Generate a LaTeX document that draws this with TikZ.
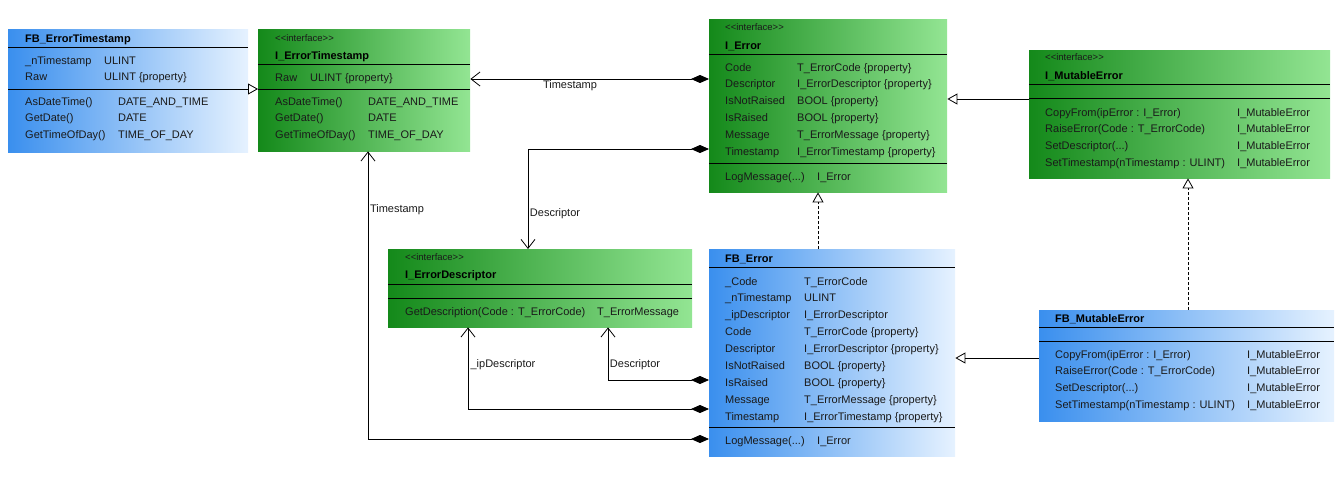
\documentclass[tikz,border=0pt]{standalone}
\usepackage{fontspec}
\setmainfont{Liberation Sans}
\usepackage{array}
\usetikzlibrary{arrows.meta,positioning}
\definecolor{fbDark}{HTML}{3A8FEE}
\definecolor{fbLight}{HTML}{E6F2FF}
\definecolor{ifDark}{HTML}{14891A}
\definecolor{ifLight}{HTML}{93E593}
\definecolor{txtDark}{HTML}{1A1A1A}

\begin{document}
\begin{tikzpicture}[x=1pt, y=-1pt,
  fbclass/.style={rectangle, left color=fbDark, right color=fbLight, draw=none, anchor=north west, inner sep=0pt},
  ifclass/.style={rectangle, left color=ifDark, right color=ifLight, draw=none, anchor=north west, inner sep=0pt},
  stereo/.style={anchor=base west, inner sep=0pt, font=\fontsize{9.5}{11}\selectfont, text=txtDark},
  cname/.style={anchor=base west, inner sep=0pt, font=\fontsize{11}{13}\bfseries\selectfont, text=black},
  members/.style={anchor=base west, inner sep=0pt, font=\fontsize{11}{16.9}\selectfont, text=txtDark},
  sep/.style={draw=black, line width=0.9pt},
  lbl/.style={inner sep=0pt, font=\fontsize{11}{13}\selectfont, text=txtDark},
  compo/.style={{Diamond[length=18pt,width=8pt]}-{Straight Barb[length=9pt,width=14pt]}, line width=0.8pt, draw=black},
  realize/.style={-{Triangle[open,length=10pt,width=11pt]}, line width=0.8pt, dash pattern=on 3pt off 2pt, draw=black},
  inherit/.style={-{Triangle[open,length=10pt,width=11pt]}, line width=0.8pt, draw=black}
]
\useasboundingbox (0,0) rectangle (1344,477);

% class boxes
\node[fbclass, minimum width=240pt, minimum height=123pt] (fbts) at (8,29) {};
\node[ifclass, minimum width=212pt, minimum height=122pt] (its) at (258,29) {};
\node[ifclass, minimum width=238pt, minimum height=173pt] (ierr) at (709,19) {};
\node[ifclass, minimum width=301pt, minimum height=128pt] (imut) at (1029,50) {};
\node[ifclass, minimum width=304pt, minimum height=78pt] (idesc) at (388,249) {};
\node[fbclass, minimum width=246pt, minimum height=207pt] (fberr) at (709,249) {};
\node[fbclass, minimum width=295pt, minimum height=111pt] (fbmut) at (1039,310) {};

% FB_ErrorTimestamp
\node[cname] (fbts-name) at (25,42) {FB\_ErrorTimestamp};
\draw[sep] (fbts.west |- 0,47) -- (fbts.east |- 0,47);
\node[members] (fbts-attr) at (25,64) {\begin{tabular}[t]{@{}p{79pt}@{}l@{}}
  \_nTimestamp & ULINT\\
  Raw & ULINT \{property\}
\end{tabular}};
\draw[sep] (fbts.west |- 0,89) -- (fbts.east |- 0,89);
\node[members] (fbts-ops) at (25,105) {\begin{tabular}[t]{@{}p{93pt}@{}l@{}}
  AsDateTime() & DATE\_AND\_TIME\\
  GetDate() & DATE\\
  GetTimeOfDay() & TIME\_OF\_DAY
\end{tabular}};

% I_ErrorTimestamp
\node[stereo] (its-st) at (275,41) {<\kern0pt<interface>\kern0pt>};
\node[cname] (its-name) at (275,59) {I\_ErrorTimestamp};
\draw[sep] (its.west |- 0,64) -- (its.east |- 0,64);
\node[members] (its-attr) at (275,81) {\begin{tabular}[t]{@{}p{35pt}@{}l@{}}
  Raw & ULINT \{property\}
\end{tabular}};
\draw[sep] (its.west |- 0,89) -- (its.east |- 0,89);
\node[members] (its-ops) at (275,105) {\begin{tabular}[t]{@{}p{93pt}@{}l@{}}
  AsDateTime() & DATE\_AND\_TIME\\
  GetDate() & DATE\\
  GetTimeOfDay() & TIME\_OF\_DAY
\end{tabular}};

% I_Error
\node[stereo] (ierr-st) at (725,30) {<\kern0pt<interface>\kern0pt>};
\node[cname] (ierr-name) at (725,49) {I\_Error};
\draw[sep] (ierr.west |- 0,54) -- (ierr.east |- 0,54);
\node[members] (ierr-attr) at (725,71) {\begin{tabular}[t]{@{}p{72pt}@{}l@{}}
  Code & T\_ErrorCode \{property\}\\
  Descriptor & I\_ErrorDescriptor \{property\}\\
  IsNotRaised & BOOL \{property\}\\
  IsRaised & BOOL \{property\}\\
  Message & T\_ErrorMessage \{property\}\\
  Timestamp & I\_ErrorTimestamp \{property\}
\end{tabular}};
\draw[sep] (ierr.west |- 0,163) -- (ierr.east |- 0,163);
\node[members] (ierr-ops) at (725,180) {\begin{tabular}[t]{@{}p{92pt}@{}l@{}}
  LogMessage(...) & I\_Error
\end{tabular}};

% I_MutableError
\node[stereo] (imut-st) at (1045,60) {<\kern0pt<interface>\kern0pt>};
\node[cname] (imut-name) at (1045,79) {I\_MutableError};
\draw[sep] (imut.west |- 0,84) -- (imut.east |- 0,84);
\draw[sep] (imut.west |- 0,98) -- (imut.east |- 0,98);
\node[members] (imut-ops) at (1045,116) {\begin{tabular}[t]{@{}p{192pt}@{}l@{}}
  CopyFrom(ipError : I\_Error) & I\_MutableError\\
  RaiseError(Code : T\_ErrorCode) & I\_MutableError\\
  SetDescriptor(...) & I\_MutableError\\
  SetTimestamp(nTimestamp : ULINT) & I\_MutableError
\end{tabular}};

% I_ErrorDescriptor
\node[stereo] (idesc-st) at (405,260) {<\kern0pt<interface>\kern0pt>};
\node[cname] (idesc-name) at (405,278) {I\_ErrorDescriptor};
\draw[sep] (idesc.west |- 0,284) -- (idesc.east |- 0,284);
\draw[sep] (idesc.west |- 0,298) -- (idesc.east |- 0,298);
\node[members] (idesc-ops) at (405,315) {\begin{tabular}[t]{@{}p{192pt}@{}l@{}}
  GetDescription(Code : T\_ErrorCode) & T\_ErrorMessage
\end{tabular}};

% FB_Error
\node[cname] (fberr-name) at (725,262) {FB\_Error};
\draw[sep] (fberr.west |- 0,267) -- (fberr.east |- 0,267);
\node[members] (fberr-attr) at (725,285) {\begin{tabular}[t]{@{}p{79pt}@{}l@{}}
  \_Code & T\_ErrorCode\\
  \_nTimestamp & ULINT\\
  \_ipDescriptor & I\_ErrorDescriptor\\
  Code & T\_ErrorCode \{property\}\\
  Descriptor & I\_ErrorDescriptor \{property\}\\
  IsNotRaised & BOOL \{property\}\\
  IsRaised & BOOL \{property\}\\
  Message & T\_ErrorMessage \{property\}\\
  Timestamp & I\_ErrorTimestamp \{property\}
\end{tabular}};
\draw[sep] (fberr.west |- 0,427) -- (fberr.east |- 0,427);
\node[members] (fberr-ops) at (725,444) {\begin{tabular}[t]{@{}p{92pt}@{}l@{}}
  LogMessage(...) & I\_Error
\end{tabular}};

% FB_MutableError
\node[cname] (fbmut-name) at (1055,322) {FB\_MutableError};
\draw[sep] (fbmut.west |- 0,327) -- (fbmut.east |- 0,327);
\draw[sep] (fbmut.west |- 0,341) -- (fbmut.east |- 0,341);
\node[members] (fbmut-ops) at (1055,358) {\begin{tabular}[t]{@{}p{192pt}@{}l@{}}
  CopyFrom(ipError : I\_Error) & I\_MutableError\\
  RaiseError(Code : T\_ErrorCode) & I\_MutableError\\
  SetDescriptor(...) & I\_MutableError\\
  SetTimestamp(nTimestamp : ULINT) & I\_MutableError
\end{tabular}};

% relations
\draw[realize] (fbts.east |- 0,89) -- (its.west |- 0,89);
\draw[compo] (ierr.west |- 0,79) -- (its.east |- 0,79);
\node[lbl] (lbl-ts) at (570,86) {Timestamp};
\draw[compo] (ierr.west |- 0,149) -| (idesc.north -| 528,0);
\node[lbl] (lbl-desc) at (555,214) {Descriptor};
\draw[inherit] (imut.west |- 0,99) -- (ierr.east |- 0,99);
\draw[realize] (fberr.north -| 818,0) -- (ierr.south -| 818,0);
\draw[realize] (fbmut.north -| 1188,0) -- (imut.south -| 1188,0);
\draw[inherit] (fbmut.west |- 0,358) -- (fberr.east |- 0,358);
\draw[compo] (fberr.west |- 0,380) -| (idesc.south -| 608,0);
\node[lbl] (lbl-fbdesc) at (635,365) {Descriptor};
\draw[compo] (fberr.west |- 0,409) -| (idesc.south -| 468,0);
\node[lbl] (lbl-ipdesc) at (503,365) {\_ipDescriptor};
\draw[compo] (fberr.west |- 0,439) -| (its.south -| 368,0);
\node[lbl] (lbl-fbts) at (397,210) {Timestamp};
\end{tikzpicture}
\end{document}
